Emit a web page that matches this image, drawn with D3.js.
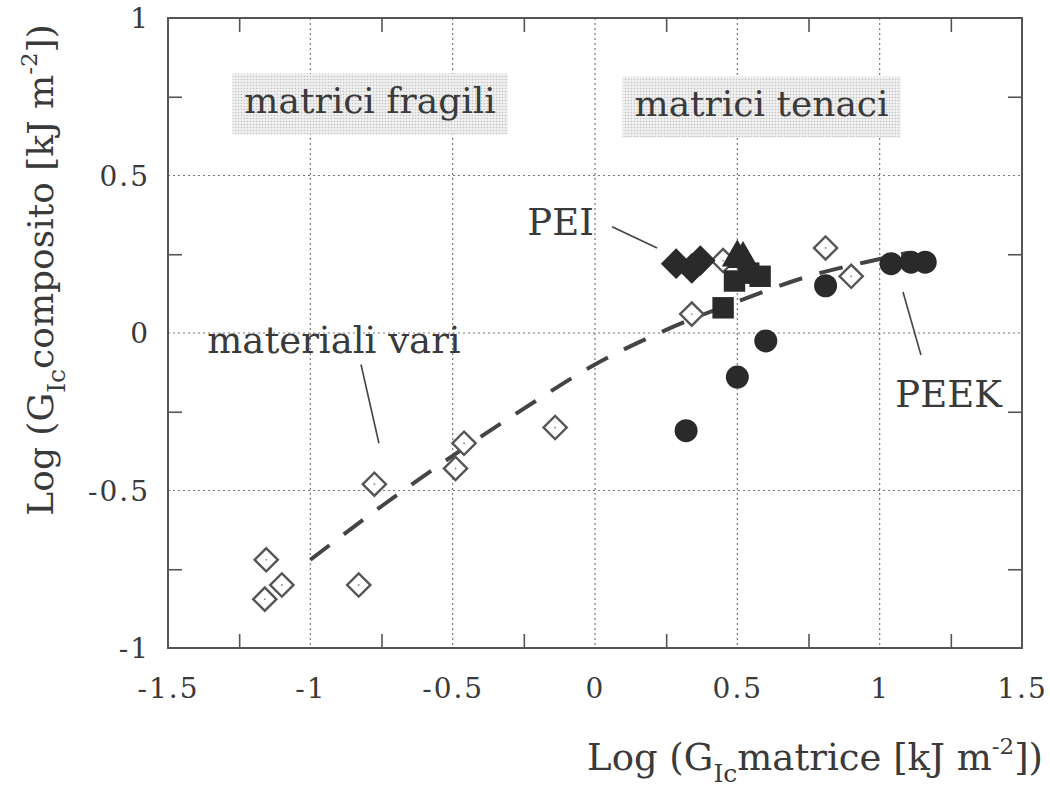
<!DOCTYPE html>
<html>
<head>
<meta charset="utf-8">
<script src="https://cdn.jsdelivr.net/npm/d3@7"></script>
<style>
  body { margin: 0; background: #fff; }
  text { font-family: "DejaVu Serif", "Liberation Serif", serif; fill: #3a3a3a; }
</style>
</head>
<body>
<div id="chart"></div>
<script>
// ---------------- DATA ----------------
var xLabels = [-1.5, -1, -0.5, 0, 0.5, 1, 1.5];
var yLabels = [-1, -0.5, 0, 0.5, 1];
var xGrid = [-1, -0.5, 0, 0.5, 1];
var yGrid = [-0.5, 0, 0.5];
var xMinor = [-1.25, -0.75, -0.25, 0.25, 0.75, 1.25];
var yMinor = [-0.75, -0.25, 0.25, 0.75];

// materiali vari (open diamonds)
var variX = [-1.155, -1.10, -1.16, -0.83, -0.775, -0.46, -0.49, -0.14, 0.34, 0.45, 0.81, 0.90];
var variY = [-0.72, -0.80, -0.845, -0.80, -0.48, -0.35, -0.43, -0.30, 0.06, 0.23, 0.27, 0.18];

// PEI (filled diamonds)
var peiX = [0.285, 0.34, 0.37];
var peiY = [0.22, 0.205, 0.23];

// filled triangles
var triX = [0.50, 0.52];
var triY = [0.24, 0.235];

// filled squares
var sqX = [0.45, 0.49, 0.54, 0.58];
var sqY = [0.08, 0.165, 0.19, 0.18];

// PEEK (filled circles)
var peekX = [0.32, 0.50, 0.60, 0.81, 1.04, 1.11, 1.16];
var peekY = [-0.31, -0.14, -0.025, 0.15, 0.22, 0.225, 0.225];

// trend curve (dashed)
var trendX = [-1.0, -0.75, -0.5, -0.25, 0, 0.25, 0.5, 0.75, 1.0, 1.1];
var trendY = [-0.72, -0.55, -0.39, -0.24, -0.10, 0.01, 0.10, 0.18, 0.235, 0.255];

// ---------------- SETUP ----------------
(function() {
    var width = 1050,
        height = 793;
    var left = 168, right = 1022, top = 18, bottom = 648;

    var svg = d3.select("#chart")
        .append("svg")
        .attr("width", width)
        .attr("height", height);

    var x = d3.scaleLinear().domain([-1.5, 1.5]).range([left, right]);
    var y = d3.scaleLinear().domain([-1, 1]).range([bottom, top]);

    // dotted fill for the region labels
    var defs = svg.append("defs");
    var pat = defs.append("pattern")
        .attr("id", "dots")
        .attr("width", 3).attr("height", 3)
        .attr("patternUnits", "userSpaceOnUse");
    pat.append("rect").attr("width", 3).attr("height", 3).attr("fill", "#f0f0f0");
    pat.append("circle").attr("cx", 1.5).attr("cy", 1.5).attr("r", 0.8).attr("fill", "#c2c2c2");

    // ---------- grid ----------
    var grid = svg.append("g").attr("stroke", "#777").attr("stroke-width", 1.2)
        .attr("stroke-dasharray", "2,3");
    grid.selectAll(".vg").data(xGrid).enter().append("line")
        .attr("x1", function(d) { return x(d); }).attr("x2", function(d) { return x(d); })
        .attr("y1", top).attr("y2", bottom);
    grid.selectAll(".hg").data(yGrid).enter().append("line")
        .attr("y1", function(d) { return y(d); }).attr("y2", function(d) { return y(d); })
        .attr("x1", left).attr("x2", right);

    // ---------- minor ticks (inward, all four sides) ----------
    var tickLen = 14;
    var ax = svg.append("g");
    ax.append("g").attr("transform", "translate(0," + bottom + ")")
        .call(d3.axisBottom(x).tickValues(xMinor).tickSize(-tickLen).tickFormat(""));
    ax.append("g").attr("transform", "translate(0," + top + ")")
        .call(d3.axisTop(x).tickValues(xMinor).tickSize(-tickLen).tickFormat(""));
    ax.append("g").attr("transform", "translate(" + left + ",0)")
        .call(d3.axisLeft(y).tickValues(yMinor).tickSize(-tickLen).tickFormat(""));
    ax.append("g").attr("transform", "translate(" + right + ",0)")
        .call(d3.axisRight(y).tickValues(yMinor).tickSize(-tickLen).tickFormat(""));
    ax.selectAll(".domain").remove();
    ax.selectAll("line").attr("stroke", "#555").attr("stroke-width", 1.6);

    // frame
    svg.append("rect")
        .attr("x", left).attr("y", top)
        .attr("width", right - left).attr("height", bottom - top)
        .attr("fill", "none").attr("stroke", "#555").attr("stroke-width", 2);

    // ---------- tick labels ----------
    var fmt = function(d) { return d3.format("")(d).replace("−", "-"); };
    var xl = svg.append("g").attr("transform", "translate(0," + bottom + ")")
        .call(d3.axisBottom(x).tickValues(xLabels).tickSize(0).tickPadding(30).tickFormat(fmt));
    var yl = svg.append("g").attr("transform", "translate(" + left + ",0)")
        .call(d3.axisLeft(y).tickValues(yLabels).tickSize(0).tickPadding(18).tickFormat(fmt));
    [xl, yl].forEach(function(g) {
        g.select(".domain").remove();
        g.selectAll("text")
            .attr("font-family", "DejaVu Serif")
            .attr("font-size", 28)
            .attr("letter-spacing", 2)
            .attr("fill", "#3a3a3a");
    });
    yl.selectAll("text").attr("dy", "0.35em");

    // ---------- region labels with dotted boxes ----------
    var regions = [
        { text: "matrici fragili", x: -0.79, y: 0.70 },
        { text: "matrici tenaci", x: 0.585, y: 0.69 }
    ];
    regions.forEach(function(r) {
        var g = svg.append("g");
        var rect = g.append("rect").attr("fill", "url(#dots)");
        var t = g.append("text")
            .attr("x", x(r.x)).attr("y", y(r.y))
            .attr("text-anchor", "middle")
            .attr("font-size", 36)
            .text(r.text);
        var bb = t.node().getBBox();
        rect.attr("x", bb.x - 12).attr("y", bb.y - 6)
            .attr("width", bb.width + 24).attr("height", bb.height + 20);
    });

    // ---------- trend curve ----------
    var trend = trendX.map(function(d, i) { return [d, trendY[i]]; });
    svg.append("path")
        .datum(trend)
        .attr("fill", "none")
        .attr("stroke", "#444")
        .attr("stroke-width", 4)
        .attr("stroke-dasharray", "24,18")
        .attr("d", d3.line()
            .x(function(d) { return x(d[0]); })
            .y(function(d) { return y(d[1]); })
            .curve(d3.curveMonotoneX));

    // ---------- markers ----------
    function pts(xs, ys) { return xs.map(function(d, i) { return [d, ys[i]]; }); }
    var marks = svg.append("g");

    // open diamonds
    marks.selectAll(".vari").data(pts(variX, variY)).enter().append("path")
        .attr("d", d3.symbol().type(d3.symbolSquare).size(270)())
        .attr("transform", function(d) { return "translate(" + x(d[0]) + "," + y(d[1]) + ") rotate(45)"; })
        .attr("fill", "#fff").attr("stroke", "#555").attr("stroke-width", 2.4);
    marks.selectAll(".vdot").data(pts(variX, variY)).enter().append("circle")
        .attr("cx", function(d) { return x(d[0]); }).attr("cy", function(d) { return y(d[1]); })
        .attr("r", 0.9).attr("fill", "#888");

    // filled squares
    marks.selectAll(".sq").data(pts(sqX, sqY)).enter().append("path")
        .attr("d", d3.symbol().type(d3.symbolSquare).size(460)())
        .attr("transform", function(d) { return "translate(" + x(d[0]) + "," + y(d[1]) + ")"; })
        .attr("fill", "#2a2a2a");

    // filled triangles
    marks.selectAll(".tri").data(pts(triX, triY)).enter().append("path")
        .attr("d", d3.symbol().type(d3.symbolTriangle).size(420)())
        .attr("transform", function(d) { return "translate(" + x(d[0]) + "," + y(d[1]) + ")"; })
        .attr("fill", "#2a2a2a");

    // filled diamonds (PEI)
    marks.selectAll(".pei").data(pts(peiX, peiY)).enter().append("path")
        .attr("d", d3.symbol().type(d3.symbolSquare).size(470)())
        .attr("transform", function(d) { return "translate(" + x(d[0]) + "," + y(d[1]) + ") rotate(45)"; })
        .attr("fill", "#2a2a2a");

    // filled circles (PEEK)
    marks.selectAll(".peek").data(pts(peekX, peekY)).enter().append("circle")
        .attr("cx", function(d) { return x(d[0]); }).attr("cy", function(d) { return y(d[1]); })
        .attr("r", 11.5)
        .attr("fill", "#2a2a2a");

    // ---------- annotations with pointer lines ----------
    var notes = [
        { text: "PEI", tx: -0.121, ty: 0.311, lx1: 0.06, ly1: 0.337, lx2: 0.218, ly2: 0.27 },
        { text: "materiali vari", tx: -0.917, ty: -0.063, lx1: -0.822, ly1: -0.10, lx2: -0.759, ly2: -0.35 },
        { text: "PEEK", tx: 1.242, ty: -0.235, lx1: 1.082, ly1: 0.13, lx2: 1.145, ly2: -0.07 }
    ];
    notes.forEach(function(n) {
        svg.append("line")
            .attr("x1", x(n.lx1)).attr("y1", y(n.ly1))
            .attr("x2", x(n.lx2)).attr("y2", y(n.ly2))
            .attr("stroke", "#444").attr("stroke-width", 1.6);
        svg.append("text")
            .attr("x", x(n.tx)).attr("y", y(n.ty))
            .attr("text-anchor", "middle")
            .attr("font-size", 37)
            .text(n.text);
    });

    // ---------- axis titles ----------
    var xt = svg.append("text")
        .attr("x", 1043).attr("y", 770)
        .attr("text-anchor", "end")
        .attr("font-size", 37);
    xt.append("tspan").text("Log (G");
    xt.append("tspan").attr("font-size", 25).attr("dy", 12).text("Ic");
    xt.append("tspan").attr("dy", -12).text("matrice [kJ m");
    xt.append("tspan").attr("font-size", 23).attr("dy", -16).text("-2");
    xt.append("tspan").attr("dy", 16).text("])");

    var yt = svg.append("text")
        .attr("transform", "translate(53,270) rotate(-90)")
        .attr("text-anchor", "middle")
        .attr("font-size", 36);
    yt.append("tspan").text("Log (G");
    yt.append("tspan").attr("font-size", 25).attr("dy", 12).text("Ic");
    yt.append("tspan").attr("dy", -12).text("composito [kJ m");
    yt.append("tspan").attr("font-size", 23).attr("dy", -16).text("-2");
    yt.append("tspan").attr("dy", 16).text("])");
})();
</script>
</body>
</html>
